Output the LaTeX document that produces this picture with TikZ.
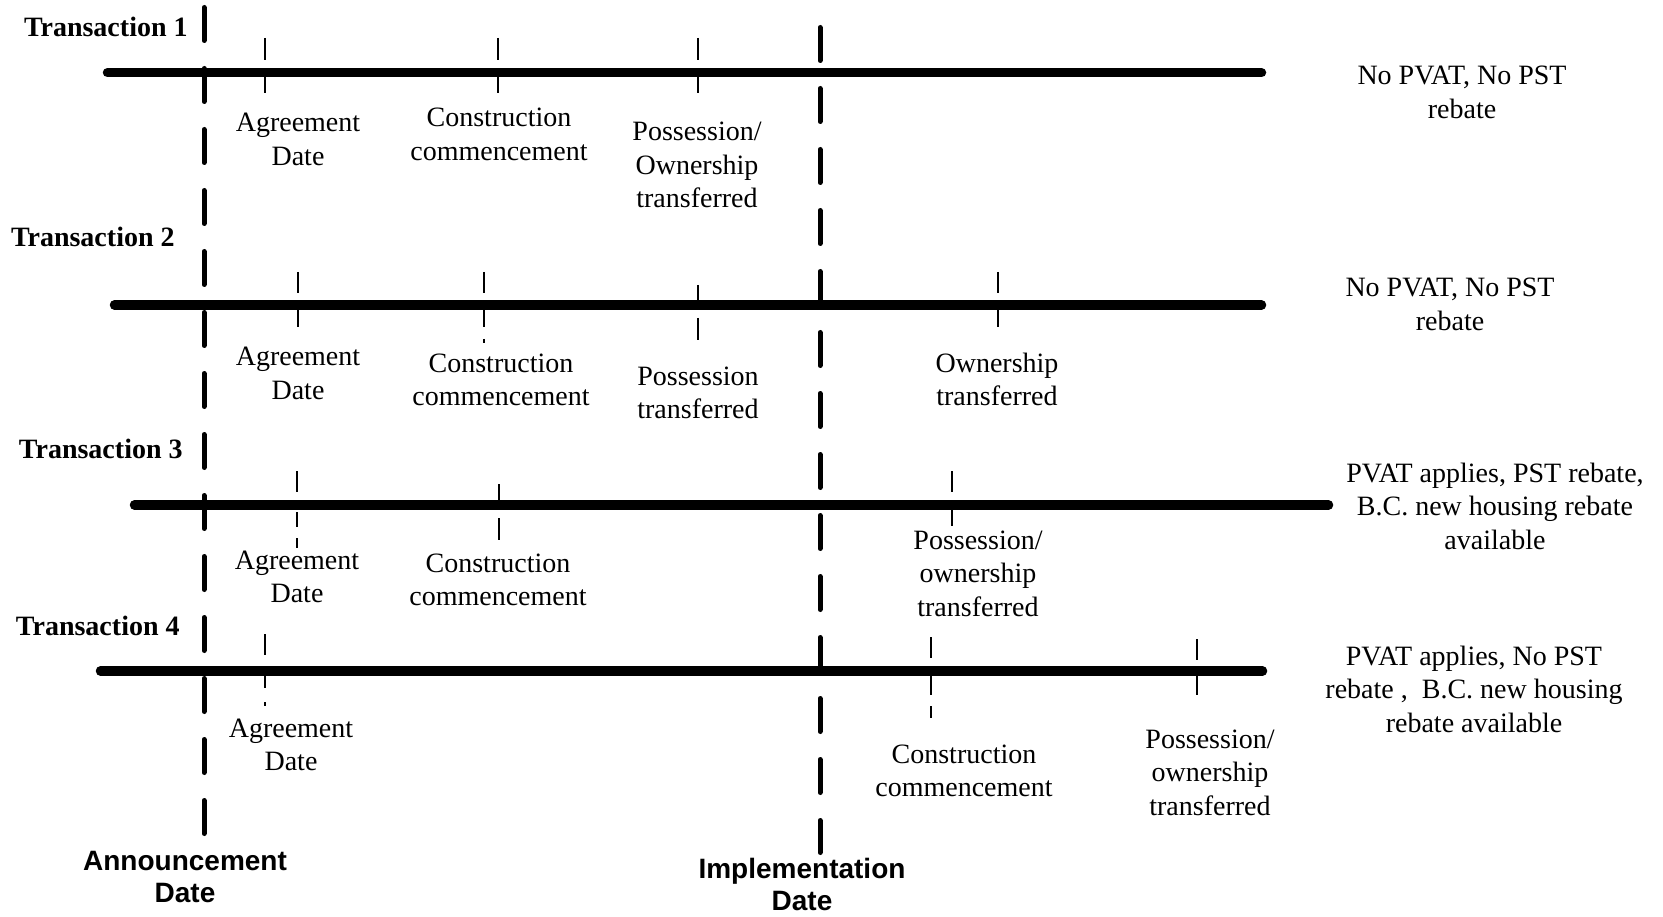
\documentclass[tikz,border=0pt]{standalone}
\usepackage{fontspec}
\setmainfont{Liberation Serif}
\newfontfamily\labsans{Liberation Sans}
\newcommand{\ml}[1]{\begin{tabular}[t]{@{}c@{}}#1\end{tabular}}
\begin{document}
\begin{tikzpicture}[x=1pt,y=-1pt,
  every node/.style={inner sep=0pt, outer sep=0pt, font=\fontsize{28}{33.5}\selectfont},
  lbl/.style={anchor=base},
  tline/.style={line width=9.5pt, line cap=round},
  tickmark/.style={line width=2.7pt},
  dateline/.style={line width=5pt, line cap=round, dash pattern=on 33pt off 28pt},
  trans/.style={anchor=base west, font=\fontsize{28}{33}\selectfont\bfseries},
  dlab/.style={anchor=base, font=\fontsize{28}{32}\selectfont\labsans\bfseries}]
\useasboundingbox (0,0) rectangle (1663,917);
\fill[white] (0,0) rectangle (1663,917);

% timelines
\coordinate (l1a) at (107.5,72.7); \coordinate (l1b) at (1261.5,72.7);
\coordinate (l2a) at (114.5,305);  \coordinate (l2b) at (1261.5,305);
\coordinate (l3a) at (134.5,505);  \coordinate (l3b) at (1328.5,505);
\coordinate (l4a) at (100.5,671);  \coordinate (l4b) at (1262.5,671);
\draw[tline] (l1a) -- (l1b);
\draw[tline] (l2a) -- (l2b);
\draw[tline] (l3a) -- (l3b);
\draw[tline] (l4a) -- (l4b);

% ticks line 1
\foreach \x in {265,498,698} {\draw[tickmark] (\x,38) -- (\x,60); \draw[tickmark] (\x,77) -- (\x,93);}
% ticks line 2
\draw[tickmark] (298,272) -- (298,293); \draw[tickmark] (298,309) -- (298,327);
\draw[tickmark] (484,272) -- (484,293); \draw[tickmark] (484,309) -- (484,327); \draw[tickmark] (484,339) -- (484,343);
\draw[tickmark] (698,285) -- (698,301); \draw[tickmark] (698,318) -- (698,340);
\draw[tickmark] (998,272) -- (998,293); \draw[tickmark] (998,309) -- (998,327);
% ticks line 3
\draw[tickmark] (297,471) -- (297,492); \draw[tickmark] (297,512) -- (297,527); \draw[tickmark] (297,538) -- (297,548);
\draw[tickmark] (499,484) -- (499,501); \draw[tickmark] (499,518) -- (499,540);
\draw[tickmark] (952,471) -- (952,492); \draw[tickmark] (952,510) -- (952,526);
% ticks line 4
\draw[tickmark] (265,634) -- (265,655); \draw[tickmark] (265,675) -- (265,688); \draw[tickmark] (265,702) -- (265,706);
\draw[tickmark] (931,637) -- (931,658); \draw[tickmark] (931,675) -- (931,695); \draw[tickmark] (931,706) -- (931,718);
\draw[tickmark] (1197,639) -- (1197,660); \draw[tickmark] (1197,675) -- (1197,695);

% date lines
\coordinate (annTop) at (204,7.5); \coordinate (annBot) at (204,833.5);
\coordinate (impTop) at (820,27.5); \coordinate (impBot) at (820,852.5);
\draw[dateline] (annTop) -- (annBot);
\draw[dateline] (impTop) -- (impBot);

% transaction labels
\node[trans] (t1) at (24,37) {Transaction 1};
\node[trans] (t2) at (11,247) {Transaction 2};
\node[trans] (t3) at (19,458) {Transaction 3};
\node[trans] (t4) at (16,635) {Transaction 4};

% line 1 labels
\node[lbl] (a1) at (298,132) {\ml{Agreement\\Date}};
\node[lbl] (c1) at (499,127) {\ml{Construction\\commencement}};
\node[lbl] (p1) at (697,141) {\ml{Possession/\\Ownership\\transferred}};
% line 2 labels
\node[lbl] (a2) at (298,366) {\ml{Agreement\\Date}};
\node[lbl] (c2) at (501,372) {\ml{Construction\\commencement}};
\node[lbl] (p2) at (698,385) {\ml{Possession\\transferred}};
\node[lbl] (o2) at (997,372) {\ml{Ownership\\transferred}};
% line 3 labels
\node[lbl] (a3) at (297,569) {\ml{Agreement\\Date}};
\node[lbl] (c3) at (498,572) {\ml{Construction\\commencement}};
\node[lbl] (p3) at (978,549) {\ml{Possession/\\ownership\\transferred}};
% line 4 labels
\node[lbl] (a4) at (291,737) {\ml{Agreement\\Date}};
\node[lbl] (c4) at (964,763) {\ml{Construction\\commencement}};
\node[lbl] (p4) at (1210,748) {\ml{Possession/\\ownership\\transferred}};

% right-hand outcomes
\node[lbl] (r1) at (1462,85) {\ml{No PVAT, No PST\\rebate}};
\node[lbl] (r2) at (1450,297) {\ml{No PVAT, No PST\\rebate}};
\node[lbl] (r3) at (1495,482) {\ml{PVAT applies, PST rebate,\\B.C. new housing rebate\\available}};
\node[lbl] (r4) at (1474,665) {\ml{PVAT applies, No PST\\rebate ,\ \ B.C. new housing\\rebate available}};

% date labels
\node[dlab] (ann) at (185,870) {\ml{Announcement\\Date}};
\node[dlab] (imp) at (802,878) {\ml{Implementation\\Date}};
\end{tikzpicture}
\end{document}
